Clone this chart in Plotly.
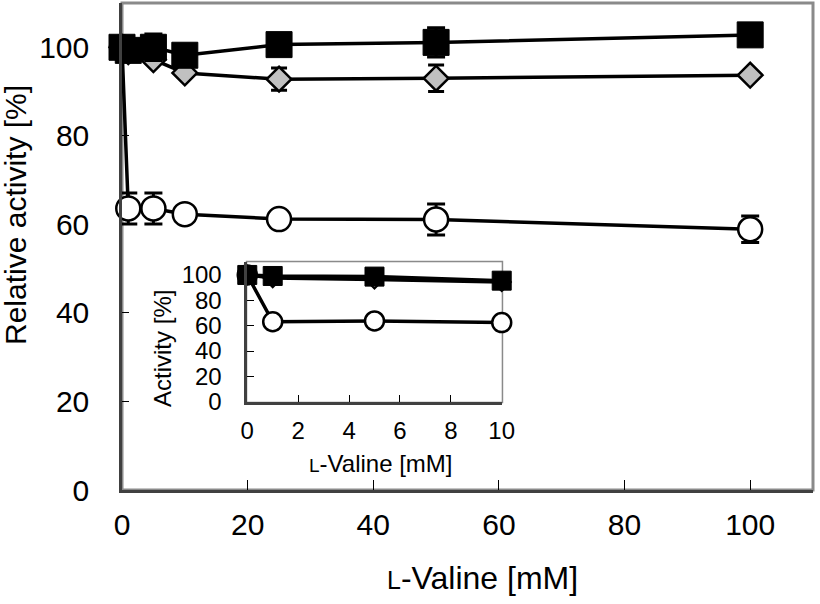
import plotly.graph_objects as go

# ---- main chart data ----
x_main = [0, 1, 5, 10, 25, 50, 100]
sq_main = [100, 99.3, 100, 98.2, 100.6, 101.1, 102.8]
sq_main_err = [0, 0, 3.0, 0, 0, 3.3, 0]
di_main = [100, 99, 97.2, 94.2, 92.8, 93.0, 93.7]
di_main_err = [0, 0, 0, 0, 2.5, 3.0, 0]
ci_main = [100, 63.6, 63.6, 62.3, 61.2, 61.1, 58.9]
ci_main_err = [0, 3.5, 3.5, 0, 0, 3.5, 3.0]

# ---- inset data ----
x_ins = [0, 1, 5, 10]
sq_ins = [100, 99.2, 98.7, 95.5]
di_ins = [100, 97.5, 96.5, 94.5]
ci_ins = [100, 63.1, 63.7, 62.4]

x_ticks_main = [0, 20, 40, 60, 80, 100]
y_ticks_main = [0, 20, 40, 60, 80, 100]
x_ticks_ins = [0, 2, 4, 6, 8, 10]
y_ticks_ins = [0, 20, 40, 60, 80, 100]

FONT = "Liberation Sans, Arial, sans-serif"
LINE = dict(color="black", width=3.5)

fig = go.Figure()

# main: circles, diamonds, squares
fig.add_trace(go.Scatter(
    x=x_main, y=ci_main, mode="lines+markers", line=LINE,
    marker=dict(symbol="circle", size=24, color="white", line=dict(color="black", width=2.5)),
    error_y=dict(type="data", array=ci_main_err, color="black", thickness=3, width=9),
    cliponaxis=False, showlegend=False))
fig.add_trace(go.Scatter(
    x=x_main, y=di_main, mode="lines+markers", line=LINE,
    marker=dict(symbol="diamond", size=19, color="#c0c0c0", line=dict(color="black", width=2.5)),
    error_y=dict(type="data", array=di_main_err, color="black", thickness=3, width=8),
    cliponaxis=False, showlegend=False))
fig.add_trace(go.Scatter(
    x=x_main, y=sq_main, mode="lines+markers", line=LINE,
    marker=dict(symbol="square", size=26, color="black", line=dict(color="black", width=1)),
    error_y=dict(type="data", array=sq_main_err, color="black", thickness=3, width=9),
    cliponaxis=False, showlegend=False))

# inset
fig.add_trace(go.Scatter(
    x=x_ins, y=ci_ins, mode="lines+markers", line=LINE, xaxis="x2", yaxis="y2",
    marker=dict(symbol="circle", size=19, color="white", line=dict(color="black", width=2.5)),
    cliponaxis=False, showlegend=False))
fig.add_trace(go.Scatter(
    x=x_ins, y=di_ins, mode="lines+markers", line=LINE, xaxis="x2", yaxis="y2",
    marker=dict(symbol="diamond", size=14, color="#c0c0c0", line=dict(color="black", width=2)),
    cliponaxis=False, showlegend=False))
fig.add_trace(go.Scatter(
    x=x_ins, y=sq_ins, mode="lines+markers", line=LINE, xaxis="x2", yaxis="y2",
    marker=dict(symbol="square", size=19, color="black", line=dict(color="black", width=1)),
    cliponaxis=False, showlegend=False))

axis_common = dict(showgrid=False, zeroline=False, showline=True, linecolor="#404040",
                   linewidth=2.5, ticks="inside", tickcolor="black", tickwidth=1.2,
                   automargin=False)

fig.update_layout(
    template="none",
    width=820, height=604,
    margin=dict(l=122, r=7, t=3, b=114, autoexpand=False),
    paper_bgcolor="white", plot_bgcolor="white",
    font=dict(family=FONT, color="black"),
    xaxis=dict(domain=[0, 1], range=[0, 110], tickvals=x_ticks_main, ticklen=10,
               tickfont=dict(size=30), ticklabelstandoff=6, **axis_common),
    yaxis=dict(domain=[0, 1], range=[0, 110], tickvals=y_ticks_main, ticklen=7,
               tickfont=dict(size=30), ticklabelstandoff=24, **axis_common),
    xaxis2=dict(domain=[0.1813, 0.5495], range=[0, 10], tickvals=x_ticks_ins, ticklen=7,
                anchor="y2", tickfont=dict(size=24), ticklabelstandoff=6, **axis_common),
    yaxis2=dict(domain=[0.1813, 0.4676], range=[0, 110], tickvals=y_ticks_ins, ticklen=7,
                anchor="x2", tickfont=dict(size=24), ticklabelstandoff=18, **axis_common),
    shapes=[
        dict(type="rect", xref="paper", yref="paper", x0=0, x1=1, y0=0, y1=1,
             line=dict(color="#8a8a8a", width=3), layer="below"),
        dict(type="rect", xref="x2 domain", yref="y2 domain", x0=0, x1=1, y0=0, y1=1,
             line=dict(color="#8a8a8a", width=3), layer="below"),
    ],
    annotations=[
        dict(text="Relative activity [%]", xref="paper", yref="paper", x=-0.1534, y=0.5647,
             textangle=-90, showarrow=False, xanchor="center", yanchor="middle",
             font=dict(size=30)),
        dict(text="<span style='font-size:25px'>L</span>-Valine [mM]", xref="paper", yref="paper",
             x=0.521, y=-0.1807, showarrow=False, xanchor="center", yanchor="middle",
             font=dict(size=32)),
        dict(text="Activity [%]", xref="paper", yref="paper", x=0.0593, y=0.2916,
             textangle=-90, showarrow=False, xanchor="center", yanchor="middle",
             font=dict(size=24)),
        dict(text="<span style='font-size:19px'>L</span>-Valine [mM]", xref="paper", yref="paper",
             x=0.3748, y=0.0554, showarrow=False, xanchor="center", yanchor="middle",
             font=dict(size=24)),
    ],
)

fig.write_html("out.html", config={"displayModeBar": False},
               post_script="document.body.style.margin='0px';document.body.style.overflow='hidden';")
